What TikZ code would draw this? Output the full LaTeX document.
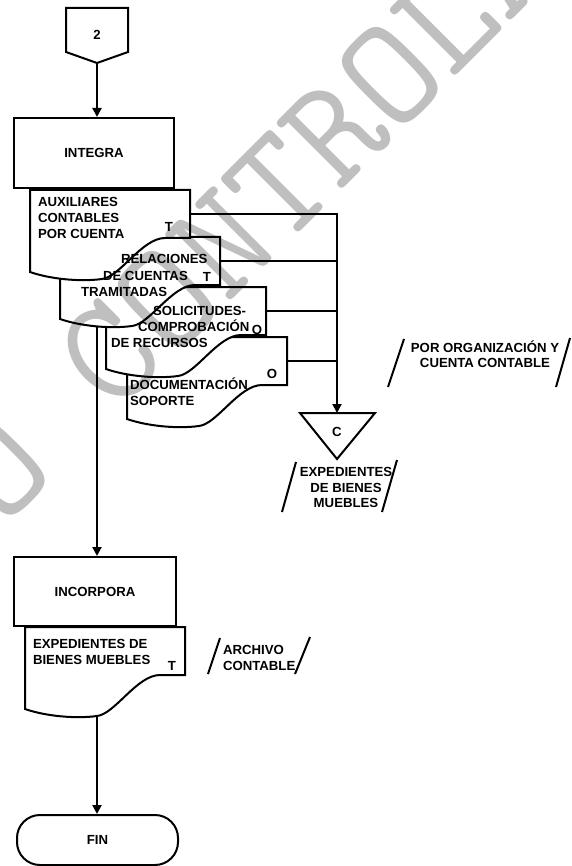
\documentclass[tikz,border=0pt]{standalone}
\usepackage{fontspec}
\setmainfont{Liberation Sans}
\usetikzlibrary{arrows.meta}
\newcommand\diagfont{\fontsize{13.2}{16}\selectfont\bfseries}
\begin{document}
\begin{tikzpicture}[x=1pt, y=-1pt, line width=2pt,
  arr/.style={-{Triangle[length=9pt,width=9pt]}},
  box/.style={draw, fill=white, inner sep=0pt, font=\diagfont},
  lbl/.style={inner sep=0pt, font=\diagfont},
  slash/.style={line width=2pt},
  docu/.pic={
    \draw[fill=white] (0,0) -- (160,0) -- (160,48) -- (135,48)
      .. controls (112,48) and (90,87) .. (72,89)
      .. controls (50,92) and (20,89) .. (0,82) -- cycle;
    \coordinate (-out) at (160,24);
  }]
\useasboundingbox (0,0) rectangle (571,866);

% off-page connector
\draw (66,8) -- (128,8) -- (128,52) -- (97,63) -- (66,52) -- cycle;
\coordinate (conn2) at (97,63);
\node[lbl] (n2) at (97,35) {2};

% INTEGRA
\node[box, minimum width=160pt, minimum height=70pt] (integra) at (94,153) {INTEGRA};
\draw[arr] (conn2) -- (conn2 |- integra.north);

% stacked documents, lowest first
\pic (doc) at (127,337) {docu};
\pic (sol) at (106,287) {docu};
\pic (rel) at (60,237) {docu};
\pic (aux) at (30,190) {docu};

% document texts
\node[lbl, anchor=base west] (aux1) at (37,207) {AUXILIARES};
\node[lbl, anchor=base west] (aux2) at (37,223) {CONTABLES};
\node[lbl, anchor=base west] (aux3) at (37,239) {POR CUENTA};
\node[lbl, anchor=base] (auxT) at (169,232) {T};

\node[lbl, anchor=base west] (rel1) at (120,264) {RELACIONES};
\node[lbl, anchor=base west] (rel2) at (102,280) {DE CUENTAS};
\node[lbl, anchor=base west] (rel3) at (80,296) {TRAMITADAS};
\node[lbl, anchor=base] (relT) at (207,281) {T};

\node[lbl, anchor=base west] (sol1) at (152,315) {SOLICITUDES-};
\node[lbl, anchor=base west] (sol2) at (137,331) {COMPROBACIÓN};
\node[lbl, anchor=base west] (sol3) at (110,347) {DE RECURSOS};
\node[lbl, anchor=base] (solO) at (257,334) {O};

\node[lbl, anchor=base west] (doc1) at (129,389) {DOCUMENTACIÓN};
\node[lbl, anchor=base west] (doc2) at (129,405) {SOPORTE};
\node[lbl, anchor=base] (docO) at (272,378) {O};

% file symbol
\coordinate (tri) at (337,413);
\draw (300,413) -- (375,413) -- (337,459) -- cycle;
\node[lbl, anchor=base] (triC) at (337,436) {C};

% collector lines into the file
\draw[arr] (aux-out) -| (tri);
\draw (rel-out) -- (rel-out -| tri);
\draw (sol-out) -- (sol-out -| tri);
\draw (doc-out) -- (doc-out -| tri);

% notes
\node[lbl, anchor=base] (exp1) at (346,476) {EXPEDIENTES};
\node[lbl, anchor=base] (exp2) at (346,492) {DE BIENES};
\node[lbl, anchor=base] (exp3) at (346,507) {MUEBLES};
\draw[slash] (282,512) -- (296,462);
\draw[slash] (382,512) -- (397,460);

\node[lbl, anchor=base] (org1) at (485,352) {POR ORGANIZACIÓN Y};
\node[lbl, anchor=base] (org2) at (485,367) {CUENTA CONTABLE};
\draw[slash] (388,387) -- (404,339);
\draw[slash] (556,387) -- (570,338);

% INCORPORA
\coordinate (relbot) at (97,327);
\node[box, minimum width=162pt, minimum height=69pt] (incorpora) at (95,591.5) {INCORPORA};
\draw[arr] (relbot) -- (relbot |- incorpora.north);

\pic (inc) at (25,627) {docu};
\node[lbl, anchor=base west] (inc1) at (32,648) {EXPEDIENTES DE};
\node[lbl, anchor=base west] (inc2) at (32,664) {BIENES MUEBLES};
\node[lbl, anchor=base] (incT) at (172,670) {T};

\node[lbl, anchor=base west] (arc1) at (222,654) {ARCHIVO};
\node[lbl, anchor=base west] (arc2) at (222,670) {CONTABLE};
\draw[slash] (208,674) -- (220,638);
\draw[slash] (295,674) -- (310,637);

% end
\node[box, minimum width=161pt, minimum height=50pt, rounded corners=23pt] (fin) at (97.5,840) {FIN};
\coordinate (incbot) at (97,716);
\draw[arr] (incbot) -- (incbot |- fin.north);

% watermark
\begin{scope}
  \clip (0,0) rectangle (571,866);
  \node[inner sep=0pt, text=black, text opacity=0.25, rotate=45,
        font=\ttfamily\fontsize{154}{154}\selectfont] (wm) at (278,187) {NO CONTROLADA};
\end{scope}
\end{tikzpicture}
\end{document}
